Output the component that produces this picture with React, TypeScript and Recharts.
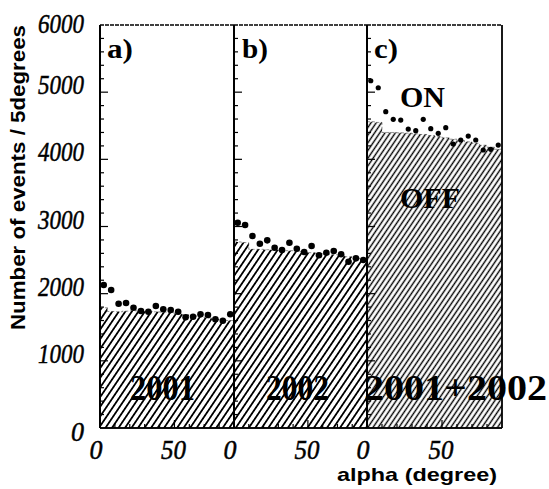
import React from 'react';
import { ComposedChart, Area, Scatter, XAxis, YAxis, ReferenceLine } from 'recharts';

// alpha bin lower edges (5-degree bins) plus the closing edge at 90
const binEdges = [0, 5, 10, 15, 20, 25, 30, 35, 40, 45, 50, 55, 60, 65, 70, 75, 80, 85, 90];
const binCenters = [2.5, 7.5, 12.5, 17.5, 22.5, 27.5, 32.5, 37.5, 42.5, 47.5, 52.5, 57.5, 62.5, 67.5, 72.5, 77.5, 82.5, 87.5];

// 2001
const off2001 = [1790, 1735, 1730, 1740, 1745, 1740, 1735, 1730, 1725, 1715, 1700, 1685, 1670, 1655, 1640, 1620, 1605, 1600];
const on2001 = [2129, 2054, 1850, 1861, 1791, 1742, 1731, 1816, 1767, 1757, 1731, 1648, 1657, 1693, 1682, 1618, 1597, 1693];
// 2002
const off2002 = [2770, 2760, 2660, 2660, 2655, 2650, 2645, 2640, 2630, 2620, 2610, 2600, 2590, 2580, 2570, 2550, 2530, 2510];
const on2002 = [3056, 3022, 2858, 2744, 2794, 2684, 2650, 2759, 2669, 2620, 2710, 2571, 2610, 2635, 2586, 2476, 2526, 2501];
// 2001+2002
const offSum = [4560, 4550, 4400, 4400, 4395, 4390, 4380, 4370, 4355, 4340, 4320, 4300, 4280, 4260, 4240, 4210, 4180, 4150];
const onSum = [5170, 5066, 4709, 4596, 4585, 4451, 4426, 4596, 4456, 4387, 4471, 4228, 4288, 4347, 4288, 4139, 4149, 4213];

const yTicks = [0, 200, 400, 600, 800, 1000, 1200, 1400, 1600, 1800, 2000, 2200, 2400, 2600, 2800, 3000, 3200, 3400, 3600, 3800, 4000, 4200, 4400, 4600, 4800, 5000, 5200, 5400, 5600, 5800, 6000];
const yMajor = [0, 1000, 2000, 3000, 4000, 5000, 6000];
const xTicks = [0, 10, 20, 30, 40, 50, 60, 70, 80, 90];
const xLabels = [0, 50];

const panelLetters = ['a)', 'b)', 'c)'];
const periodLabels = ['2001', '2002', '2001+2002'];

const W = 549;
const H = 489;
const TOP = 25;
const BOTTOM = 428;
const AX = 1; // axis thickness reserved by recharts

const panels = [
  { id: 'a', left: 100, right: 234, off: off2001, on: on2001, yLabels: true, r: 3.3, sp: 5.4, sw: 1.8 },
  { id: 'b', left: 234, right: 367, off: off2002, on: on2002, yLabels: false, r: 3.3, sp: 5.4, sw: 1.8 },
  { id: 'c', left: 367, right: 502, off: offSum, on: onSum, yLabels: false, r: 2.6, sp: 4.3, sw: 1.4 },
];

const serif = '"Liberation Serif", "DejaVu Serif", serif';
const sans = '"Liberation Sans", Arial, sans-serif';

function yLabelDy(v: number) {
  if (v === 0) return 4;
  if (v === 6000) return -1;
  return -7;
}

function makeYTick(showLabels: boolean, plotLeft: number) {
  return (props: any) => {
    const { y, payload } = props;
    const x = plotLeft;
    const v = payload.value as number;
    const major = yMajor.includes(v);
    const len = major ? 8 : 4;
    return (
      <g>
        {v !== 0 && v !== 6000 && (
          <line x1={x} y1={y} x2={x + len} y2={y} stroke="#000" strokeWidth={1.2} />
        )}
        {showLabels && major && (
          <text
            x={x - 16}
            y={y + yLabelDy(v) + 9}
            textAnchor="end"
            fontFamily={serif}
            fontStyle="italic"
            fontSize={27}
            fill="#000"
            stroke="#000"
            strokeWidth={0.5}
            textLength={v === 0 ? 13 : 46}
            lengthAdjust="spacingAndGlyphs"
          >
            {v}
          </text>
        )}
      </g>
    );
  };
}

function XTick(props: any) {
  const { x, payload } = props;
  const y = BOTTOM;
  const v = payload.value as number;
  const major = v === 50;
  const len = major ? 8 : 4;
  const labeled = xLabels.includes(v);
  return (
    <g>
      {v !== 0 && v !== 90 && <line x1={x} y1={y} x2={x} y2={y - len} stroke="#000" strokeWidth={1.2} />}
      {labeled && (
        <text
          x={v === 0 ? x - 4 : x - 1}
          y={y + 31}
          textAnchor="middle"
          fontFamily={serif}
          fontStyle="italic"
          fontSize={27}
          fill="#000"
          stroke="#000"
          strokeWidth={0.5}
          textLength={v === 0 ? 13 : 25}
          lengthAdjust="spacingAndGlyphs"
        >
          {v}
        </text>
      )}
    </g>
  );
}

function Panel({ p }: { p: (typeof panels)[number] }) {
  const hist = binEdges.map((x, i) => ({ x, off: p.off[Math.min(i, p.off.length - 1)] }));
  const onData = binCenters.map((x, i) => ({ x, on: p.on[i] }));
  const pid = `hatch-${p.id}`;
  const dot = (s: any) => <circle cx={s.cx} cy={s.cy} r={p.r} fill="#000" />;
  return (
    <div style={{ position: 'absolute', left: 0, top: 0 }}>
      <ComposedChart
        width={W}
        height={H}
        data={hist}
        margin={{ top: TOP, right: W - p.right, bottom: H - BOTTOM - AX, left: p.left - AX }}
      >
        <defs>
          <pattern id={pid} patternUnits="userSpaceOnUse" width={p.sp} height={10} patternTransform="rotate(34)">
            <line x1={p.sp / 2} y1={0} x2={p.sp / 2} y2={10} stroke="#000" strokeWidth={p.sw} />
          </pattern>
        </defs>
        <XAxis
          dataKey="x"
          type="number"
          domain={[0, 90]}
          ticks={xTicks}
          interval={0}
          height={AX}
          tickSize={0}
          tickMargin={0}
          tickLine={false}
          axisLine={{ stroke: '#000', strokeWidth: 1.5 }}
          tick={XTick}
          allowDataOverflow
        />
        <YAxis
          type="number"
          domain={[0, 6000]}
          ticks={yTicks}
          interval={0}
          width={AX}
          tickSize={0}
          tickMargin={0}
          tickLine={false}
          axisLine={{ stroke: '#000', strokeWidth: 2 }}
          tick={makeYTick(p.yLabels, p.left)}
          allowDataOverflow
        />
        <ReferenceLine y={6000} stroke="#000" strokeWidth={1.3} strokeDasharray="4 1" />
        <ReferenceLine x={0} stroke="#000" strokeWidth={2} />
        {p.id === 'c' && <ReferenceLine x={90} stroke="#000" strokeWidth={1.8} />}
        <ReferenceLine y={0} stroke="#000" strokeWidth={1.5} />
        <Area
          type="stepAfter"
          dataKey="off"
          fill={`url(#${pid})`}
          fillOpacity={1}
          stroke="#000"
          strokeWidth={0.7}
          strokeOpacity={0.6}
          strokeDasharray="3 2"
          isAnimationActive={false}
          dot={false}
          activeDot={false}
        />
        <Scatter data={onData} dataKey="on" shape={dot} isAnimationActive={false} />
      </ComposedChart>
    </div>
  );
}

export default function App() {
  return (
    <div style={{ position: 'absolute', left: 0, top: 0, width: W, height: H, background: '#fff' }}>
      {panels.map((p) => (
        <Panel key={p.id} p={p} />
      ))}
      <svg width={W} height={H} style={{ position: 'absolute', left: 0, top: 0, pointerEvents: 'none' }}>
        <text x={107} y={58} fontFamily={serif} fontWeight="bold" fontSize={27} textLength={26} lengthAdjust="spacingAndGlyphs">{panelLetters[0]}</text>
        <text x={242} y={58} fontFamily={serif} fontWeight="bold" fontSize={27} textLength={26} lengthAdjust="spacingAndGlyphs">{panelLetters[1]}</text>
        <text x={374} y={58} fontFamily={serif} fontWeight="bold" fontSize={27} textLength={24} lengthAdjust="spacingAndGlyphs">{panelLetters[2]}</text>
        <text x={400} y={107} fontFamily={serif} fontWeight="bold" fontSize={30} textLength={45} lengthAdjust="spacingAndGlyphs">ON</text>
        <text x={400} y={208} fontFamily={serif} fontWeight="bold" fontSize={30} textLength={60} lengthAdjust="spacingAndGlyphs">OFF</text>
        <text x={130} y={400} fontFamily={serif} fontWeight="bold" fontSize={35} textLength={65} lengthAdjust="spacingAndGlyphs">{periodLabels[0]}</text>
        <text x={266} y={400} fontFamily={serif} fontWeight="bold" fontSize={35} textLength={63} lengthAdjust="spacingAndGlyphs">{periodLabels[1]}</text>
        <text x={364} y={400} fontFamily={serif} fontWeight="bold" fontSize={35} textLength={183} lengthAdjust="spacingAndGlyphs">{periodLabels[2]}</text>
        <text x={337} y={481} fontFamily={sans} fontWeight="bold" fontSize={19} textLength={160} lengthAdjust="spacingAndGlyphs">alpha (degree)</text>
        <text
          transform="translate(24.5,177.5) rotate(-90)"
          textAnchor="middle"
          fontFamily={sans}
          fontWeight="bold"
          fontSize={19.5}
          textLength={305}
          lengthAdjust="spacingAndGlyphs"
        >
          Number of events / 5degrees
        </text>
      </svg>
    </div>
  );
}
